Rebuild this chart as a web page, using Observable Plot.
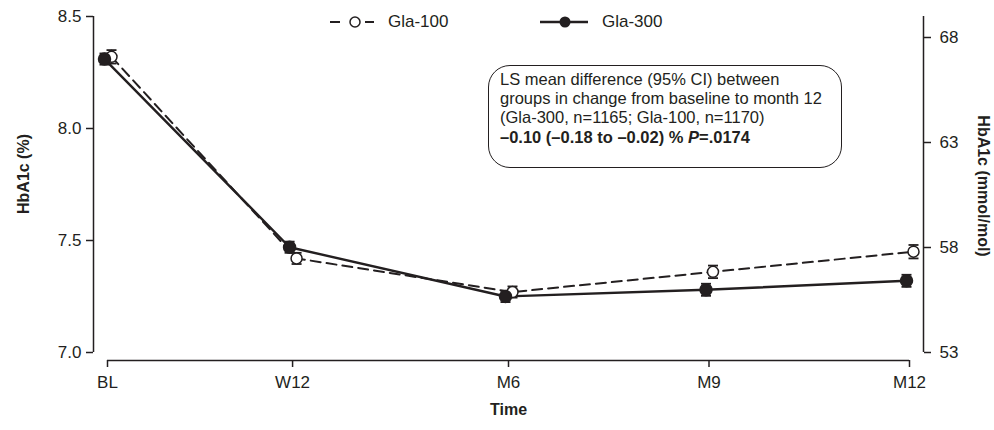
<!DOCTYPE html>
<html>
<head>
<meta charset="utf-8">
<script src="https://cdn.jsdelivr.net/npm/d3@7"></script>
<script src="https://cdn.jsdelivr.net/npm/@observablehq/plot@0.6"></script>
<style>
  body { margin: 0; background: #fff; font-family: "Liberation Sans", Arial, sans-serif; }
  #wrap { position: relative; width: 994px; height: 430px; }
  #wrap svg { display: block; }
  .item { position: absolute; top: 12px; display: flex; align-items: center; font-size: 17px; color: #231f20; }
  .item span { margin-left: 14px; }
  #note { position: absolute; left: 488px; top: 65px; width: 354px; height: 103px; box-sizing: border-box;
          border: 1.4px solid #231f20; border-radius: 22px; padding: 4px 0 0 11px;
          font-size: 16.5px; line-height: 19.2px; color: #231f20; white-space: nowrap; }
</style>
</head>
<body>
<div id="wrap">
  <div id="chart"></div>
  <div class="item" style="left:330px">
    <svg width="44" height="20"><line x1="0" x2="10" y1="10" y2="10" stroke="#231f20" stroke-width="2"/><circle cx="25" cy="10" r="5" fill="#fff" stroke="#231f20" stroke-width="1.5"/><line x1="35" x2="44" y1="10" y2="10" stroke="#231f20" stroke-width="2"/></svg>
    <span>Gla-100</span>
  </div>
  <div class="item" style="left:540px">
    <svg width="48" height="20"><line x1="0" x2="48" y1="10" y2="10" stroke="#231f20" stroke-width="2.4"/><circle cx="25" cy="10" r="5.5" fill="#231f20"/></svg>
    <span>Gla-300</span>
  </div>
  <div id="note">
    LS mean difference (95% CI) between<br>
    groups in change from baseline to month 12<br>
    (Gla-300, n=1165; Gla-100, n=1170)<br>
    <b>–0.10 (–0.18 to –0.02) % <i>P</i>=.0174</b>
  </div>
</div>
<script>
// ---- data ----
const categories = ["BL", "W12", "M6", "M9", "M12"];
const weeks = [0, 12, 26, 39, 52];
const gla100 = [8.32, 7.42, 7.27, 7.36, 7.45];
const gla100Err = [0.03, 0.025, 0.025, 0.028, 0.03];
const gla300 = [8.31, 7.47, 7.25, 7.28, 7.32];
const gla300Err = [0.025, 0.025, 0.025, 0.027, 0.027];
const leftTicks = [7.0, 7.5, 8.0, 8.5];
const rightTicks = [53, 58, 63, 68];
const rightDomain = [53, 69];

const ink = "#231f20";
const toPct = d3.scaleLinear(rightDomain, [7.0, 8.5]);

const g100 = categories.map((c, i) => ({cat: c, week: weeks[i], value: gla100[i], err: gla100Err[i]}));
const g300 = categories.map((c, i) => ({cat: c, week: weeks[i], value: gla300[i], err: gla300Err[i]}));

const cap = {draw(ctx, size) { const r = Math.sqrt(size / Math.PI); ctx.moveTo(-r, 0); ctx.lineTo(r, 0); }};

function errorBars(data, dx) {
  return [
    Plot.ruleX(data, {x: "week", y1: d => d.value - d.err, y2: d => d.value + d.err, dx, stroke: ink, strokeWidth: 1.5}),
    Plot.dot(data, {x: "week", y: d => d.value + d.err, symbol: cap, r: 5, stroke: ink, strokeWidth: 1.8, dx}),
    Plot.dot(data, {x: "week", y: d => d.value - d.err, symbol: cap, r: 5, stroke: ink, strokeWidth: 1.8, dx})
  ];
}

const chart = Plot.plot({
  width: 994,
  height: 430,
  marginLeft: 93,
  marginRight: 71,
  marginTop: 15,
  marginBottom: 70,
  style: {fontFamily: "'Liberation Sans', Arial, sans-serif", fontSize: "17px", color: ink, background: "#fff"},
  x: {domain: [0, 52], insetLeft: 14, insetRight: 14},
  y: {domain: [7.0, 8.5], insetTop: 1, insetBottom: 8},
  marks: [
    // axis lines
    Plot.ruleX([0], {y1: 7.0, y2: 8.5, dx: -14, stroke: ink, strokeWidth: 1.5}),
    Plot.ruleX([52], {y1: 7.0, y2: toPct(rightDomain[1]), dx: 14, stroke: ink, strokeWidth: 1.5}),
    Plot.ruleY([7.0], {x1: 0, x2: 52, dy: 8, stroke: ink, strokeWidth: 1.5}),
    Plot.axisY(leftTicks, {anchor: "left", tickFormat: d3.format(".1f"), tickSize: 7, tickPadding: 5, label: null, stroke: ink, strokeWidth: 1.5, fill: ink}),
    Plot.axisY(rightTicks.map(toPct), {anchor: "right", tickFormat: d => Math.round(toPct.invert(d)), tickSize: 7, tickPadding: 9, label: null, stroke: ink, strokeWidth: 1.5, fill: ink}),
    Plot.axisX(weeks, {anchor: "bottom", tickFormat: d => categories[weeks.indexOf(d)], tickSize: 7, tickPadding: 8, label: null, stroke: ink, strokeWidth: 1.5, fill: ink}),
    // axis titles
    Plot.text(["HbA1c (%)"], {frameAnchor: "left", textAnchor: "middle", rotate: -90, dx: -70, dy: -14, fontWeight: "bold", fontSize: 16, fill: ink}),
    Plot.text(["HbA1c (mmol/mol)"], {frameAnchor: "right", textAnchor: "middle", rotate: 90, dx: 60, dy: -2, fontWeight: "bold", fontSize: 16, fill: ink}),
    Plot.text(["Time"], {frameAnchor: "bottom", textAnchor: "middle", dy: 54, fontWeight: "bold", fontSize: 16, fill: ink}),
    // series lines
    Plot.line(g100, {x: "week", y: "value", dx: 4, stroke: ink, strokeWidth: 2, strokeDasharray: "10,6"}),
    Plot.line(g300, {x: "week", y: "value", dx: -3, stroke: ink, strokeWidth: 2.4}),
    // error bars
    ...errorBars(g100, 4),
    ...errorBars(g300, -3),
    // points
    Plot.dot(g100, {x: "week", y: "value", dx: 4, r: 5.5, fill: "#fff", stroke: ink, strokeWidth: 1.5}),
    Plot.dot(g300, {x: "week", y: "value", dx: -3, r: 6, fill: ink, stroke: ink})
  ]
});
document.getElementById("chart").append(chart);
</script>
</body>
</html>
